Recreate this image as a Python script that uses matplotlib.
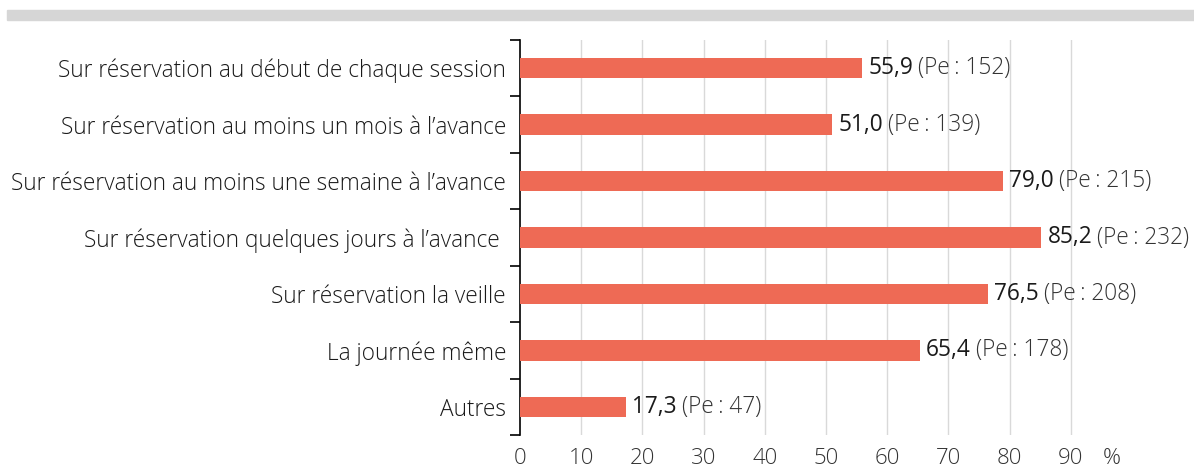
import matplotlib
matplotlib.use("Agg")
import matplotlib.pyplot as plt
from matplotlib.patches import Rectangle
from matplotlib.transforms import offset_copy

categories = [
    "Sur réservation au début de chaque session",
    "Sur réservation au moins un mois à l’avance",
    "Sur réservation au moins une semaine à l’avance",
    "Sur réservation quelques jours à l’avance ",
    "Sur réservation la veille",
    "La journée même",
    "Autres",
]
values = [55.9, 51.0, 79.0, 85.2, 76.5, 65.4, 17.3]
pe = [152, 139, 215, 232, 208, 178, 47]
xticks = [0, 10, 20, 30, 40, 50, 60, 70, 80, 90]

FONT = ["Open Sans", "DejaVu Sans"]
BAR = "#EE6A55"
TXT = "#1a1a1a"
FS = 16.3

fig = plt.figure(figsize=(11.94, 4.68), dpi=100)
W, H = 1194, 468
fig.patches.append(Rectangle((7 / W, 1 - 20 / H), 1 - 7 / W, 10 / H,
                             transform=fig.transFigure, color="#d6d6d6", zorder=0))

ax = fig.add_axes([520 / W, 1 - 435 / H, 612 / W, 395 / H])
n = len(categories)
ypos = list(range(n))
ax.barh(ypos, values, height=0.36, color=BAR, zorder=3)
ax.set_ylim(n - 0.5, -0.5)
ax.set_xlim(0, 100)

for x in xticks[1:]:
    ax.axvline(x, color="#d9d9d9", lw=1, zorder=1)

for s in ["top", "right", "bottom"]:
    ax.spines[s].set_visible(False)
ax.spines["left"].set_color("black")
ax.spines["left"].set_linewidth(1.2)

ax.set_xticks(xticks)
ax.set_xticklabels([str(x) for x in xticks], fontfamily=FONT, fontweight="light",
                   fontsize=16, color="#333333")
ax.tick_params(axis="x", length=0, pad=9)

ax.set_yticks([i - 0.5 for i in range(n + 1)], minor=False)
ax.set_yticklabels([])
ax.tick_params(axis="y", which="major", length=7, width=1.2, direction="out")
ax.set_yticks(ypos, minor=True)
ax.set_yticklabels(categories, minor=True, fontfamily=FONT, fontweight="light",
                   fontsize=FS, color=TXT)
ax.tick_params(axis="y", which="minor", length=0, pad=10)

fig.canvas.draw()
r = fig.canvas.get_renderer()
tl = ax.get_xticklabels()[0].get_window_extent(r)
fig.text(ax.transData.transform((96.7, 0))[0] / W, (tl.y0 + tl.y1) / 2 / H, "%",
         ha="center", va="center", fontfamily=FONT, fontweight="light",
         fontsize=16, color="#333333")

tr = offset_copy(ax.transData, fig=fig, x=6, y=0, units="dots")
for i, (v, p) in enumerate(zip(values, pe)):
    a = ax.text(v, i, f"{v:.1f}".replace(".", ","), transform=tr, ha="left", va="center",
                fontfamily=FONT, fontsize=FS, color=TXT)
    bb = a.get_window_extent(r)
    yc = ax.transData.transform((0, i))[1] / H
    fig.text((bb.x1 + 5) / W, yc, f"(Pe\u2009: {p})", ha="left", va="center",
             fontfamily=FONT, fontweight="light", fontsize=FS, color="#333333")

fig.savefig("out.png", dpi=100)
